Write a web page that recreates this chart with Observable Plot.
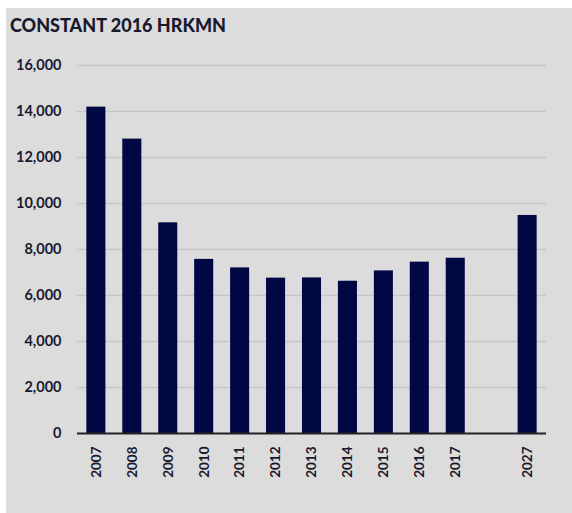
<!DOCTYPE html>
<html>
<head>
<meta charset="utf-8">
<script src="https://cdn.jsdelivr.net/npm/d3@7"></script>
<script src="https://cdn.jsdelivr.net/npm/@observablehq/plot@0.6"></script>
<style>
  html, body { margin: 0; padding: 0; background: #ffffff; width: 572px; height: 513px; overflow: hidden; }
  #bg { position: absolute; left: 6px; top: 8px; right: 0; bottom: 0; background: #dcdcdc; }
  #title { position: absolute; left: 10px; top: 16px; font-family: Lato, sans-serif; font-weight: 900; font-size: 18px; line-height: 18px; color: #1a1a2e; letter-spacing: 0px; white-space: nowrap; }
  #chart { position: absolute; left: 0; top: 0; }
</style>
</head>
<body>
<div id="bg"></div>
<div id="title">CONSTANT 2016 HRKMN</div>
<div id="chart"></div>
<script>
const years = ["2007","2008","2009","2010","2011","2012","2013","2014","2015","2016","2017","2027"];
const values = [14190, 12800, 9160, 7570, 7200, 6755, 6765, 6620, 7070, 7450, 7620, 9480];
const gapSlot = " ";
const yTicks = [0, 2000, 4000, 6000, 8000, 10000, 12000, 14000, 16000];

const data = years.map((y, i) => ({year: y, value: values[i]}));
const xDomain = [...years.slice(0, 11), gapSlot, ...years.slice(11)];

const plot = Plot.plot({
  width: 572,
  height: 513,
  marginTop: 65,
  marginBottom: 80,
  marginLeft: 77,
  marginRight: 26,
  style: {background: "transparent", fontFamily: "Lato, sans-serif", fontWeight: "bold", color: "#1a1a2e"},
  x: {domain: xDomain, paddingInner: 0.47, paddingOuter: 0.26, round: false, label: null},
  y: {domain: [0, 16000], label: null},
  marks: [
    Plot.ruleY(yTicks.filter(d => d > 0), {stroke: "#c6c6c6", strokeWidth: 1.6, strokeOpacity: 1}),
    Plot.barY(data, {x: "year", y: "value", fill: "#000844"}),
    Plot.ruleY([0], {stroke: "#222222", strokeWidth: 1.8}),
    Plot.axisY({ticks: yTicks, tickSize: 0, tickPadding: 16, tickFormat: d3.format(","), fontSize: 14.5, fontWeight: "bold", label: null}),
    Plot.axisX({tickSize: 0, tickPadding: 13, tickRotate: -90, fontSize: 13.5, fontWeight: "bold", tickFormat: d => d.trim(), label: null})
  ]
});
document.getElementById("chart").appendChild(plot);
</script>
</body>
</html>
